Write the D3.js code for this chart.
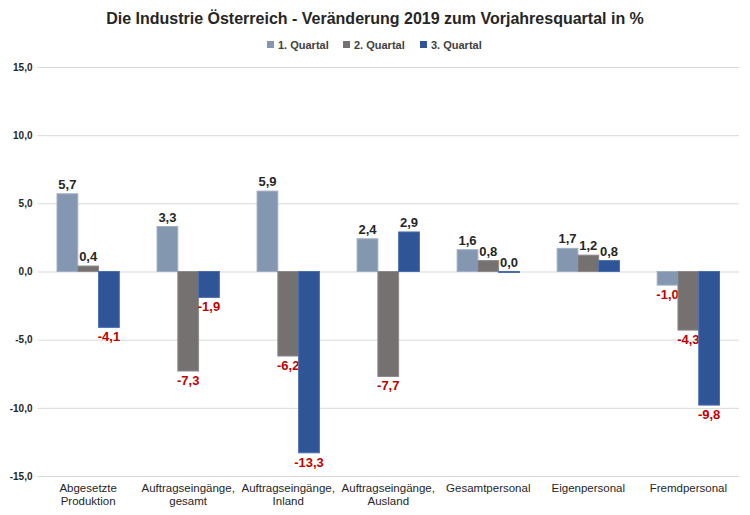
<!DOCTYPE html>
<html><head><meta charset="utf-8">
<script src="https://cdn.jsdelivr.net/npm/d3@7"></script>
<style>body{margin:0;background:#fff}svg{display:block}</style>
</head><body>
<svg id="c" width="750" height="515"></svg>
<script>
const categories = [["Abgesetzte","Produktion"],["Auftragseingänge,","gesamt"],["Auftragseingänge,","Inland"],["Auftragseingänge,","Ausland"],["Gesamtpersonal"],["Eigenpersonal"],["Fremdpersonal"]];
const seriesNames = ["1. Quartal","2. Quartal","3. Quartal"];
const q1 = [5.7, 3.3, 5.9, 2.4, 1.6, 1.7, -1.0];
const q2 = [0.4, -7.3, -6.2, -7.7, 0.8, 1.2, -4.3];
const q3 = [-4.1, -1.9, -13.3, 2.9, 0.0, 0.8, -9.8];
const yTicks = [-15, -10, -5, 0, 5, 10, 15];
const colors = ["#8497B0", "#767171", "#2F5597"];
const strokes = ["#9fb0c6", "#8f8a8a", "#4a6fb0"];

const series = [q1, q2, q3];
const svg = d3.select("#c");
const m = {l: 37.5, r: 11, t: 67, b: 39};
const W = 750, H = 515;
const x0 = d3.scaleBand().domain(d3.range(categories.length)).range([m.l, W - m.r]).paddingInner(0.377).paddingOuter(0.195);
const x1 = d3.scaleBand().domain(d3.range(3)).range([0, x0.bandwidth()]);
const y = d3.scaleLinear().domain([-15, 15]).range([H - m.b, m.t]);
const fmt = v => (v < 0 ? "-" : "") + d3.format(".1f")(Math.abs(v)).replace(".", ",");

// title
svg.append("text").attr("x", 375).attr("y", 24).attr("text-anchor", "middle")
  .attr("font-family", "Liberation Sans, Arial, sans-serif").attr("font-weight", "bold")
  .attr("font-size", 16).attr("fill", "#262626")
  .text("Die Industrie Österreich - Veränderung 2019 zum Vorjahresquartal in %");

// legend
const legX = [267, 343, 420];
seriesNames.forEach((n, i) => {
  const g = svg.append("g").attr("transform", `translate(${legX[i]},45)`);
  g.append("rect").attr("x", 0).attr("y", -4).attr("width", 7).attr("height", 7).attr("fill", colors[i]);
  g.append("text").attr("x", 11).attr("y", 3.5).attr("font-family", "Liberation Sans, sans-serif")
    .attr("font-weight", "bold").attr("font-size", 11).attr("fill", "#404040").text(n);
});

// grid
const yAxis = d3.axisLeft(y).tickValues(yTicks).tickSize(-(W - m.l - m.r)).tickFormat(fmt);
const ga = svg.append("g").attr("transform", `translate(${m.l},0)`).call(yAxis);
ga.select(".domain").remove();
ga.selectAll(".tick line").attr("stroke", "#d9d9d9").attr("stroke-width", 1);
ga.selectAll(".tick text").attr("x", -5).attr("font-family", "Liberation Sans, sans-serif")
  .attr("font-weight", "bold").attr("font-size", 10).attr("fill", "#262626");

// bars
categories.forEach((c, ci) => {
  series.forEach((s, si) => {
    const v = s[ci];
    const bx = x0(ci) + x1(si);
    svg.append("rect").attr("x", bx).attr("width", x1.bandwidth())
      .attr("y", y(Math.max(0, v))).attr("height", Math.max(1, Math.abs(y(v) - y(0))))
      .attr("fill", colors[si]).attr("stroke", strokes[si]).attr("stroke-width", 1);
    const neg = v < 0;
    svg.append("text").attr("x", bx + x1.bandwidth() / 2)
      .attr("y", neg ? y(v) + 14 : y(v) - 5).attr("text-anchor", "middle")
      .attr("font-family", "Liberation Sans, sans-serif").attr("font-weight", "bold")
      .attr("font-size", 13).attr("fill", neg ? "#C00000" : "#262626").text(fmt(v));
  });
  // category labels
  const cx = x0(ci) + x0.bandwidth() / 2;
  const t = svg.append("text").attr("x", cx).attr("y", 492).attr("text-anchor", "middle")
    .attr("font-family", "Liberation Sans, Arial, sans-serif").attr("font-size", 11.5).attr("fill", "#262626");
  c.forEach((line, li) => t.append("tspan").attr("x", cx).attr("dy", li ? 13 : 0).text(line));
});
</script>
</body></html>
